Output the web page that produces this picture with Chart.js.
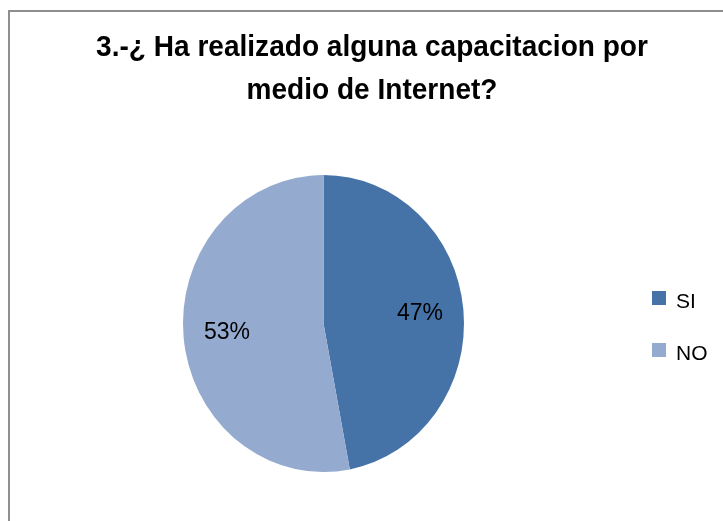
<!DOCTYPE html>
<html>
<head>
<meta charset="utf-8">
<script src="https://cdn.jsdelivr.net/npm/chart.js@4.4.1/dist/chart.umd.min.js"></script>
<style>
  html, body { margin: 0; padding: 0; background: #fff; overflow: hidden; width: 723px; height: 521px; }
  #wrap { position: relative; width: 723px; height: 521px; }
  #frame { position: absolute; left: 8px; top: 10px; width: 740px; height: 540px;
           border-left: 2px solid #8f8f8f; border-top: 2px solid #8f8f8f; box-sizing: border-box; }
  #title { position: absolute; left: 22px; top: 24px; width: 700px; text-align: center;
           white-space: nowrap; transform: scaleX(0.935); transform-origin: 350px 0;
           font-family: "Liberation Sans", Arial, sans-serif; font-weight: bold;
           font-size: 30px; line-height: 43px; color: #000; }
  canvas { position: absolute; left: 0; top: 0; }
</style>
</head>
<body>
<div id="wrap">
  <div id="frame"></div>
  <canvas id="c" width="723" height="521"></canvas>
  <div id="title"></div>
</div>
<script>
const titleLines = ["3.-¿ Ha realizado alguna capacitacion por", "medio de Internet?"];
const categories = ["SI", "NO"];
const percentages = [47, 53];
const sliceColors = ["#4673A7", "#95AACF"];

document.getElementById('title').innerHTML = titleLines.join('<br>');

const stretchY = 1.057;

const ellipsePlugin = {
  id: 'ellipse',
  beforeDatasetsDraw(chart) {
    const a = chart.chartArea;
    const cx = (a.left + a.right) / 2, cy = (a.top + a.bottom) / 2;
    const ctx = chart.ctx;
    ctx.save();
    ctx.translate(cx, cy);
    ctx.scale(1, stretchY);
    ctx.translate(-cx, -cy);
  },
  afterDatasetsDraw(chart) {
    chart.ctx.restore();
  }
};

const labelPlugin = {
  id: 'pctLabels',
  afterDraw(chart) {
    const ctx = chart.ctx;
    const meta = chart.getDatasetMeta(0);
    const total = chart.data.datasets[0].data.reduce((s, v) => s + v, 0);
    ctx.save();
    ctx.font = '23px "Liberation Sans", Arial, sans-serif';
    ctx.fillStyle = '#000';
    ctx.textAlign = 'center';
    ctx.textBaseline = 'middle';
    meta.data.forEach((arc, i) => {
      const p = arc.getProps(['x', 'y', 'startAngle', 'endAngle', 'outerRadius'], true);
      const mid = (p.startAngle + p.endAngle) / 2;
      const r = p.outerRadius * 0.69;
      const x = p.x + Math.cos(mid) * r;
      const y = p.y + Math.sin(mid) * r * stretchY;
      const v = chart.data.datasets[0].data[i];
      ctx.fillText(Math.round(v / total * 100) + '%', x, y);
    });
    // legend
    ctx.textAlign = 'left';
    ctx.textBaseline = 'alphabetic';
    ctx.font = '21px "Liberation Sans", Arial, sans-serif';
    const lx = 652, ly0 = 291, step = 52, box = 14;
    chart.data.labels.forEach((lab, i) => {
      ctx.fillStyle = chart.data.datasets[0].backgroundColor[i];
      ctx.fillRect(lx, ly0 + i * step, box, box);
      ctx.fillStyle = '#000';
      ctx.fillText(lab, lx + 24, ly0 + i * step + 17);
    });
    ctx.restore();
  }
};

new Chart(document.getElementById('c'), {
  type: 'pie',
  data: {
    labels: categories,
    datasets: [{
      data: percentages,
      backgroundColor: sliceColors,
      borderWidth: 0
    }]
  },
  options: {
    responsive: false,
    animation: false,
    layout: { padding: { left: 183, right: 259, top: 183, bottom: 57 } },
    plugins: {
      legend: { display: false },
      title: { display: false },
      tooltip: { enabled: false }
    }
  },
  plugins: [ellipsePlugin, labelPlugin]
});
</script>
</body>
</html>
